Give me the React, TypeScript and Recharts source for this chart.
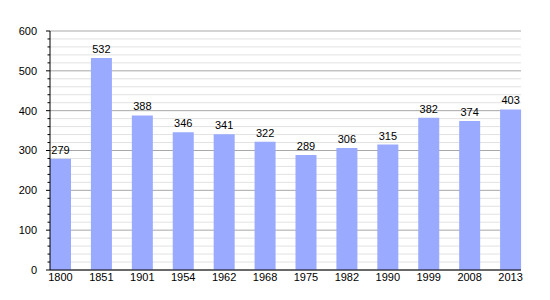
import React from "react";
import { BarChart, Bar, XAxis, YAxis, CartesianGrid, LabelList } from "recharts";

const years = ["1800", "1851", "1901", "1954", "1962", "1968", "1975", "1982", "1990", "1999", "2008", "2013"];
const population = [279, 532, 388, 346, 341, 322, 289, 306, 315, 382, 374, 403];
const yTicks = [0, 20, 40, 60, 80, 100, 120, 140, 160, 180, 200, 220, 240, 260, 280, 300, 320, 340, 360, 380, 400, 420, 440, 460, 480, 500, 520, 540, 560, 580, 600];

const data = years.map((y, i) => ({ year: y, value: population[i] }));

const FONT = "'Liberation Sans', Arial, sans-serif";

const YTick = (props: any) => {
  const { x, y, payload } = props;
  const v = payload.value as number;
  const major = v % 100 === 0;
  return (
    <g>
      <line x1={x - (major ? 4 : 2.5)} x2={x} y1={y} y2={y} stroke="#000" strokeWidth={1} />
      {major && (
        <text x={x - 13} y={y} dy="0.35em" textAnchor="end" fontSize={11} fontFamily={FONT} fill="#000">
          {v}
        </text>
      )}
    </g>
  );
};

const GridLine = (props: any) => {
  const { x1, x2, y1, y2, index } = props;
  const v = yTicks[index];
  const major = v !== undefined && v % 100 === 0;
  return (
    <line
      key={`g-${index}`}
      x1={x1}
      x2={x2}
      y1={y1}
      y2={y2}
      stroke={major ? "#a8a8a8" : "#e2e2e2"}
      strokeWidth={1}
    />
  );
};

export default function App() {
  return (
    <div style={{ position: "absolute", left: 0, top: 0, width: 550, height: 300, background: "#fff" }}>
      <BarChart
        width={550}
        height={300}
        data={data}
        margin={{ top: 31, right: 29, bottom: 10, left: 0 }}
      >
        <CartesianGrid vertical={false} horizontal={(p: any) => <GridLine {...p} />} />
        <XAxis
          dataKey="year"
          height={20}
          padding={{ left: -10, right: -10 }}
          tickLine={false}
          tickSize={0}
          tickMargin={3}
          axisLine={{ stroke: "#000" }}
          tick={{ fill: "#000", fontSize: 11, fontFamily: FONT }}
          interval={0}
        />
        <YAxis
          width={50}
          domain={[0, 600]}
          ticks={yTicks}
          interval={0}
          tickLine={false}
          tickSize={0}
          tickMargin={0}
          axisLine={{ stroke: "#000" }}
          tick={<YTick />}
        />
        <Bar dataKey="value" fill="#99aaff" barSize={21} isAnimationActive={false}>
          <LabelList dataKey="value" position="top" fill="#000" fontSize={11} fontFamily={FONT} />
        </Bar>
      </BarChart>
    </div>
  );
}
